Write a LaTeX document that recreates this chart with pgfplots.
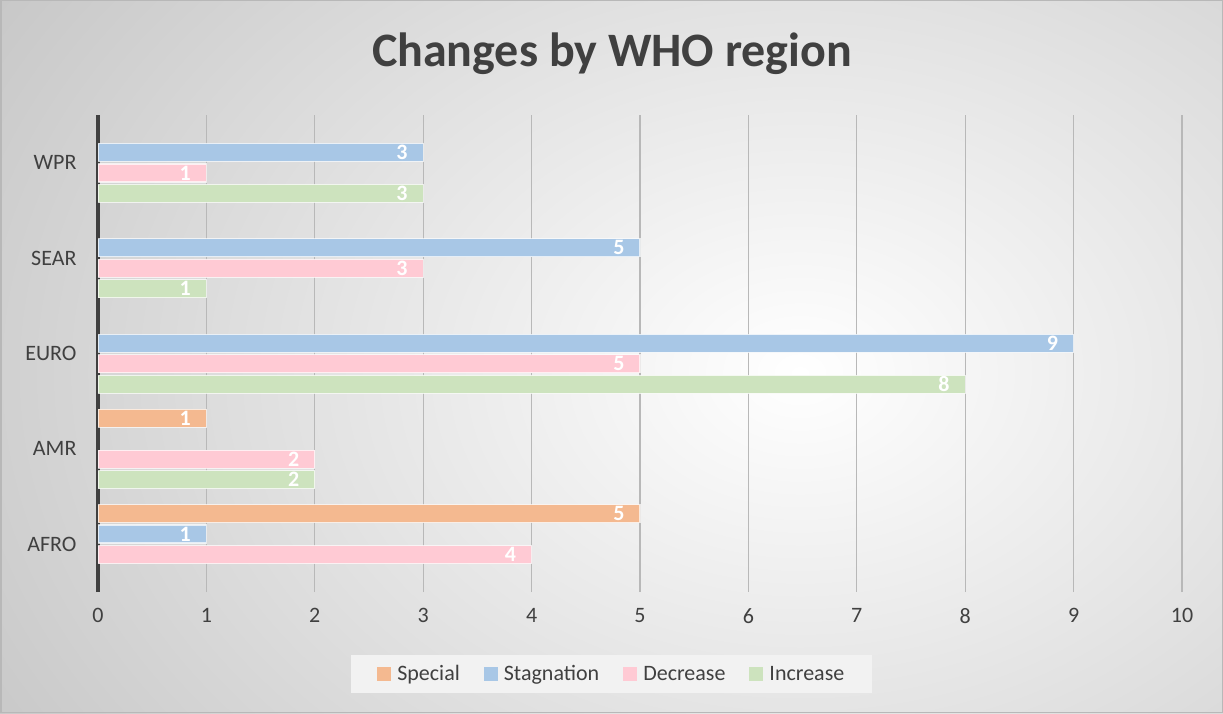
\documentclass[border=0pt]{standalone}
\usepackage{fontspec}
\setmainfont{Carlito}
\usepackage{pgfplots}
\pgfplotsset{compat=1.18}
\definecolor{cSpecial}{HTML}{F4B990}
\definecolor{cStag}{HTML}{A8C7E6}
\definecolor{cDec}{HTML}{FFCAD4}
\definecolor{cInc}{HTML}{CDE3BE}
\definecolor{txt}{HTML}{404040}
\begin{document}
\begin{tikzpicture}[x=1pt,y=1pt]
\begin{scope}
\clip (0,0) rectangle (1223,713);
\shade[inner color=white, outer color=black!24] (800-1050,340-780) rectangle (800+1050,340+780);
\end{scope}
\draw[black!28, line width=1.5pt] (0.75,0.75) rectangle (1222.25,712.25);
\begin{axis}[
  at={(98pt,121pt)}, anchor=south west,
  scale only axis, width=1084pt, height=477pt,
  xbar, bar width=18pt,
  xmin=0, xmax=10, ymin=-0.5, ymax=4.5,
  xtick={0,1,...,10},
  ytick={0,1,2,3,4},
  yticklabels={AFRO,AMR,EURO,SEAR,WPR},
  major tick length=0pt,
  xmajorgrids,
  grid style={black!28, line width=1.2pt},
  axis y line*=left, axis x line*=bottom,
  x axis line style={draw=none},
  y axis line style={line width=3.5pt, black!75},
  /pgf/number format/assume math mode=true,
  tick label style={font=\fontsize{22}{26}\selectfont, text=txt},
  xticklabel style={yshift=-13pt},
  yticklabel style={xshift=-18pt},
  nodes near coords,
  every node near coord/.append style={anchor=east, inner sep=0.5pt, xshift=-14.5pt, text=white, font=\bfseries\fontsize{22}{22}\selectfont},
  legend columns=4,
  legend style={at={(0.474,-0.172)}, anchor=center, fill=black!5, draw=none,
    font=\fontsize{22}{26}\selectfont, text=txt,
    /tikz/every even column/.append style={column sep=22pt},
    inner xsep=26pt, inner ysep=9pt},
  legend image code/.code={\fill[#1, draw=none] (0pt,-7pt) rectangle (14pt,7pt);},
  every axis plot/.append style={draw=white, draw opacity=0.7, line width=1.2pt},
]
\addplot[fill=cSpecial, bar shift=30.75pt] coordinates {(5,0) (1,1)};
\addplot[fill=cStag, bar shift=10.25pt] coordinates {(1,0) (9,2) (5,3) (3,4)};
\addplot[fill=cDec, bar shift=-10.25pt] coordinates {(4,0) (2,1) (5,2) (3,3) (1,4)};
\addplot[fill=cInc, bar shift=-30.75pt] coordinates {(2,1) (8,2) (1,3) (3,4)};
\legend{\hspace{4pt}Special,\hspace{4pt}Stagnation,\hspace{4pt}Decrease,\hspace{4pt}Increase}
\end{axis}
\node[font=\bfseries\fontsize{48}{54}\selectfont, text=txt] at (612,659) {Changes by WHO region};
\end{tikzpicture}
\end{document}
